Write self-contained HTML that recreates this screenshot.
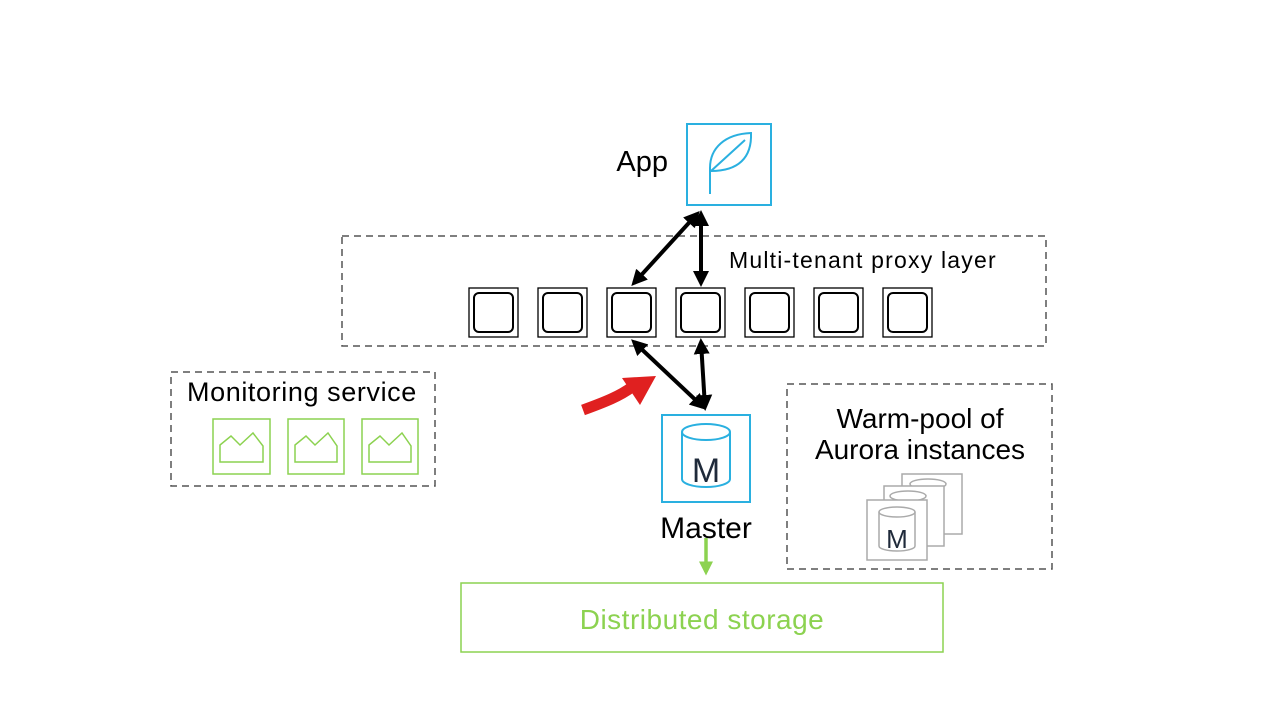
<!DOCTYPE html>
<html><head><meta charset="utf-8"><style>
html,body{margin:0;padding:0;background:#fff;}
svg{display:block;font-family:"Liberation Sans",Arial,sans-serif;}
</style></head><body>
<svg width="1280" height="720" viewBox="0 0 1280 720" xmlns="http://www.w3.org/2000/svg">
<defs>
<marker id="ah" markerWidth="4" markerHeight="4" refX="3" refY="2" orient="auto-start-reverse" markerUnits="strokeWidth"><path d="M0,0 L4,2 L0,4 z" fill="#000"/></marker>
<marker id="gh" markerWidth="4" markerHeight="4" refX="3" refY="2" orient="auto" markerUnits="strokeWidth"><path d="M0,0 L4,2 L0,4 z" fill="#8cd250"/></marker>
</defs>
<!-- App -->
<text x="668" y="171" font-size="29" text-anchor="end">App</text>
<rect x="687" y="124" width="84" height="81" fill="none" stroke="#2ab0e0" stroke-width="2"/>
<path d="M710,194 V168 C710,148 725,134 751,133 C752,158 738,171 711,171 M711,171 L745,140" fill="none" stroke="#2ab0e0" stroke-width="2"/>
<!-- Proxy layer -->
<rect x="342" y="236" width="704" height="110" fill="none" stroke="#555" stroke-width="1.5" stroke-dasharray="7,5"/>
<text x="729" y="268" font-size="23" letter-spacing="1.2">Multi-tenant proxy layer</text>
<g fill="none" stroke="#000">
<rect x="469" y="288" width="49" height="49" stroke-width="1.3"/><rect x="474" y="293" width="39" height="39" rx="5" stroke-width="2"/>
<rect x="538" y="288" width="49" height="49" stroke-width="1.3"/><rect x="543" y="293" width="39" height="39" rx="5" stroke-width="2"/>
<rect x="607" y="288" width="49" height="49" stroke-width="1.3"/><rect x="612" y="293" width="39" height="39" rx="5" stroke-width="2"/>
<rect x="676" y="288" width="49" height="49" stroke-width="1.3"/><rect x="681" y="293" width="39" height="39" rx="5" stroke-width="2"/>
<rect x="745" y="288" width="49" height="49" stroke-width="1.3"/><rect x="750" y="293" width="39" height="39" rx="5" stroke-width="2"/>
<rect x="814" y="288" width="49" height="49" stroke-width="1.3"/><rect x="819" y="293" width="39" height="39" rx="5" stroke-width="2"/>
<rect x="883" y="288" width="49" height="49" stroke-width="1.3"/><rect x="888" y="293" width="39" height="39" rx="5" stroke-width="2"/>
</g>
<!-- black arrows -->
<g stroke="#000" stroke-width="4" fill="none">
<line x1="697" y1="214" x2="634" y2="283" marker-start="url(#ah)" marker-end="url(#ah)"/>
<line x1="701" y1="214" x2="701" y2="283" marker-start="url(#ah)" marker-end="url(#ah)"/>
<line x1="634" y1="342" x2="703" y2="407" marker-start="url(#ah)" marker-end="url(#ah)"/>
<line x1="701" y1="342" x2="705" y2="407" marker-start="url(#ah)" marker-end="url(#ah)"/>
</g>
<!-- red arrow -->
<path d="M583,410 C605,402 620,396 632,387" stroke="#e02020" stroke-width="11" fill="none"/>
<path d="M622,378 L656,376 L640,405 z" fill="#e02020"/>
<!-- Master -->
<rect x="662" y="415" width="88" height="87" fill="none" stroke="#2ab0e0" stroke-width="2"/>
<g fill="none" stroke="#2ab0e0" stroke-width="2">
<ellipse cx="706" cy="432" rx="24" ry="8"/>
<path d="M682,432 V479 A24,8 0 0 0 730,479 V432"/>
</g>
<text x="706" y="482" font-size="34" text-anchor="middle" fill="#1f2a3a">M</text>
<text x="706" y="538" font-size="30" text-anchor="middle">Master</text>
<line x1="706" y1="538" x2="706" y2="572" stroke="#8cd250" stroke-width="3.5" marker-end="url(#gh)"/>
<!-- storage -->
<rect x="461" y="583" width="482" height="69" fill="none" stroke="#8cd250" stroke-width="1.5"/>
<text x="702" y="629" font-size="28" letter-spacing="0.5" text-anchor="middle" fill="#8cd250">Distributed storage</text>
<!-- monitoring -->
<rect x="171" y="372" width="264" height="114" fill="none" stroke="#555" stroke-width="1.5" stroke-dasharray="7,5"/>
<text x="187" y="401" font-size="27" letter-spacing="0.6">Monitoring service</text>
<g fill="none" stroke="#8cd250" stroke-width="1.5">
<rect x="213" y="419" width="57" height="55"/><path d="M220,462 V445 L231,436 L240,445 L253,433 L263,446 V462 Z"/>
<rect x="288" y="419" width="56" height="55"/><path d="M295,462 V445 L306,436 L315,445 L328,433 L337,446 V462 Z"/>
<rect x="362" y="419" width="56" height="55"/><path d="M369,462 V445 L380,436 L389,445 L402,433 L411,446 V462 Z"/>
</g>
<!-- warm pool -->
<rect x="787" y="384" width="265" height="185" fill="none" stroke="#555" stroke-width="1.5" stroke-dasharray="7,5"/>
<text x="920" y="428" font-size="28" text-anchor="middle">Warm-pool of</text>
<text x="920" y="459" font-size="28" text-anchor="middle">Aurora instances</text>
<g fill="#fff" stroke="#aaa" stroke-width="1.5">
<rect x="902" y="474" width="60" height="60"/>
<ellipse cx="928" cy="484" rx="18" ry="5"/>
<rect x="884" y="486" width="60" height="60"/>
<ellipse cx="908" cy="496" rx="18" ry="5"/>
<rect x="867" y="500" width="60" height="60"/>
<path d="M879,512 V546 A18,5 0 0 0 915,546 V512"/>
<ellipse cx="897" cy="512" rx="18" ry="5"/>
</g>
<text x="897" y="548" font-size="26" text-anchor="middle" fill="#1f2a3a">M</text>
</svg>
</body></html>
